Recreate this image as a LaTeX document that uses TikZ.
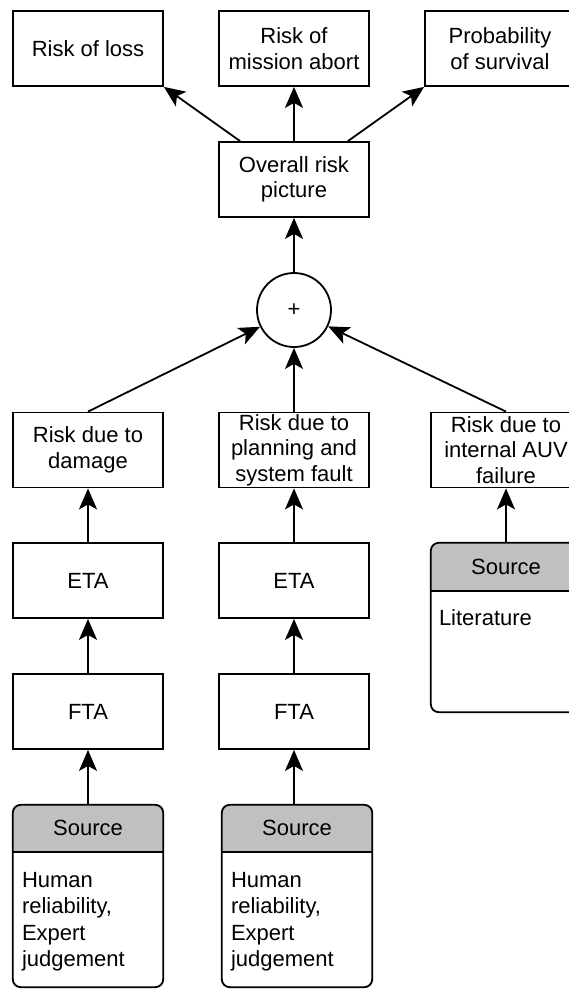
\documentclass[tikz,border=0pt]{standalone}
\usepackage{fontspec}
\setmainfont{Liberation Sans}
\usetikzlibrary{arrows.meta}
\definecolor{hdrgray}{RGB}{192,192,192}

\tikzset{
  edge/.style={line width=1.8pt},
  box/.style={draw, edge, minimum width=150pt, minimum height=75pt,
    inner sep=0pt, align=center},
  sumnode/.style={draw, edge, circle, minimum size=74pt, inner sep=0pt},
  srcbox/.style={minimum width=150pt, inner sep=0pt},
  conn/.style={edge, -{Stealth[length=21pt,width=18pt,inset=5pt]}},
}

% Source panel: grey header strip, separator, rounded frame, title and body text
% #1 node name, #2 header height, #3 text inset, #4 body text
\newcommand{\sourcepanel}[4]{%
  \begin{scope}
    \clip[rounded corners=8pt] (#1.north west) rectangle (#1.south east);
    \fill[hdrgray] (#1.north west) rectangle ([yshift=-#2]#1.north east);
  \end{scope}
  \draw[edge] ([yshift=-#2]#1.north west) -- ([yshift=-#2]#1.north east);
  \draw[edge, rounded corners=8pt] (#1.north west) rectangle (#1.south east);
  \node (#1-head) at ([yshift=-#2/2]#1.north) {Source};
  \node[anchor=north west, align=left, inner sep=0pt,
        font=\fontsize{22}{26.6}\selectfont] (#1-body)
    at ([xshift=#3, yshift=-67pt]#1.north west) {#4};
}

\begin{document}
\begin{tikzpicture}[x=1pt, y=-1pt,
  every node/.style={font=\fontsize{22}{25.5}\selectfont}]
  \useasboundingbox (0,0) rectangle (569,990);
  \clip (0,0) rectangle (569,990);

  % outcome measures
  \node[box] (loss)  at (88,48.5)  {Risk of loss};
  \node[box] (abort) at (294,48.5) {Risk of\\mission abort};
  \node[box] (surv)  at (500,48.5) {Probability\\of survival};

  % aggregation
  \node[box] (overall) at (294,179.5) {Overall risk\\picture};
  \node[sumnode] (plus) at (294,310) {+};

  % risk contributions
  \node[box] (dmg)  at (88,450)  {Risk due to\\damage};
  \node[box] (plan) at (294,450) {Risk due to\\planning and\\system fault};
  \node[box] (auv)  at (506,450) {Risk due to\\internal AUV\\failure};

  % analyses
  \node[box] (eta1) at (88,580.5)  {ETA};
  \node[box] (eta2) at (294,580.5) {ETA};
  \node[box] (fta1) at (88,711.5)  {FTA};
  \node[box] (fta2) at (294,711.5) {FTA};

  % data sources
  \node[srcbox, minimum height=182pt] (srcA) at (88,896) {};
  \node[srcbox, minimum height=182pt] (srcB) at (297,896) {};
  \node[srcbox, minimum height=169pt] (srcC) at (506,627.5) {};
  \sourcepanel{srcA}{47pt}{9pt}{Human\\reliability,\\Expert\\judgement}
  \sourcepanel{srcB}{47pt}{9pt}{Human\\reliability,\\Expert\\judgement}
  \sourcepanel{srcC}{48pt}{8pt}{Literature}

  % connectors
  \draw[conn] (overall) -- (loss.south east);
  \draw[conn] (overall) -- (abort);
  \draw[conn] (overall) -- (surv.south west);
  \draw[conn] (plus) -- (overall);
  \draw[conn] (dmg.north) -- (plus);
  \draw[conn] (plan.north) -- (plus);
  \draw[conn] (auv.north) -- (plus);
  \draw[conn] (eta1) -- (dmg);
  \draw[conn] (eta2) -- (plan);
  \draw[conn] (fta1) -- (eta1);
  \draw[conn] (fta2) -- (eta2);
  \draw[conn] (srcA) -- (fta1);
  \draw[conn] (srcB.north -| fta2) -- (fta2);
  \draw[conn] (srcC) -- (auv);
\end{tikzpicture}
\end{document}
